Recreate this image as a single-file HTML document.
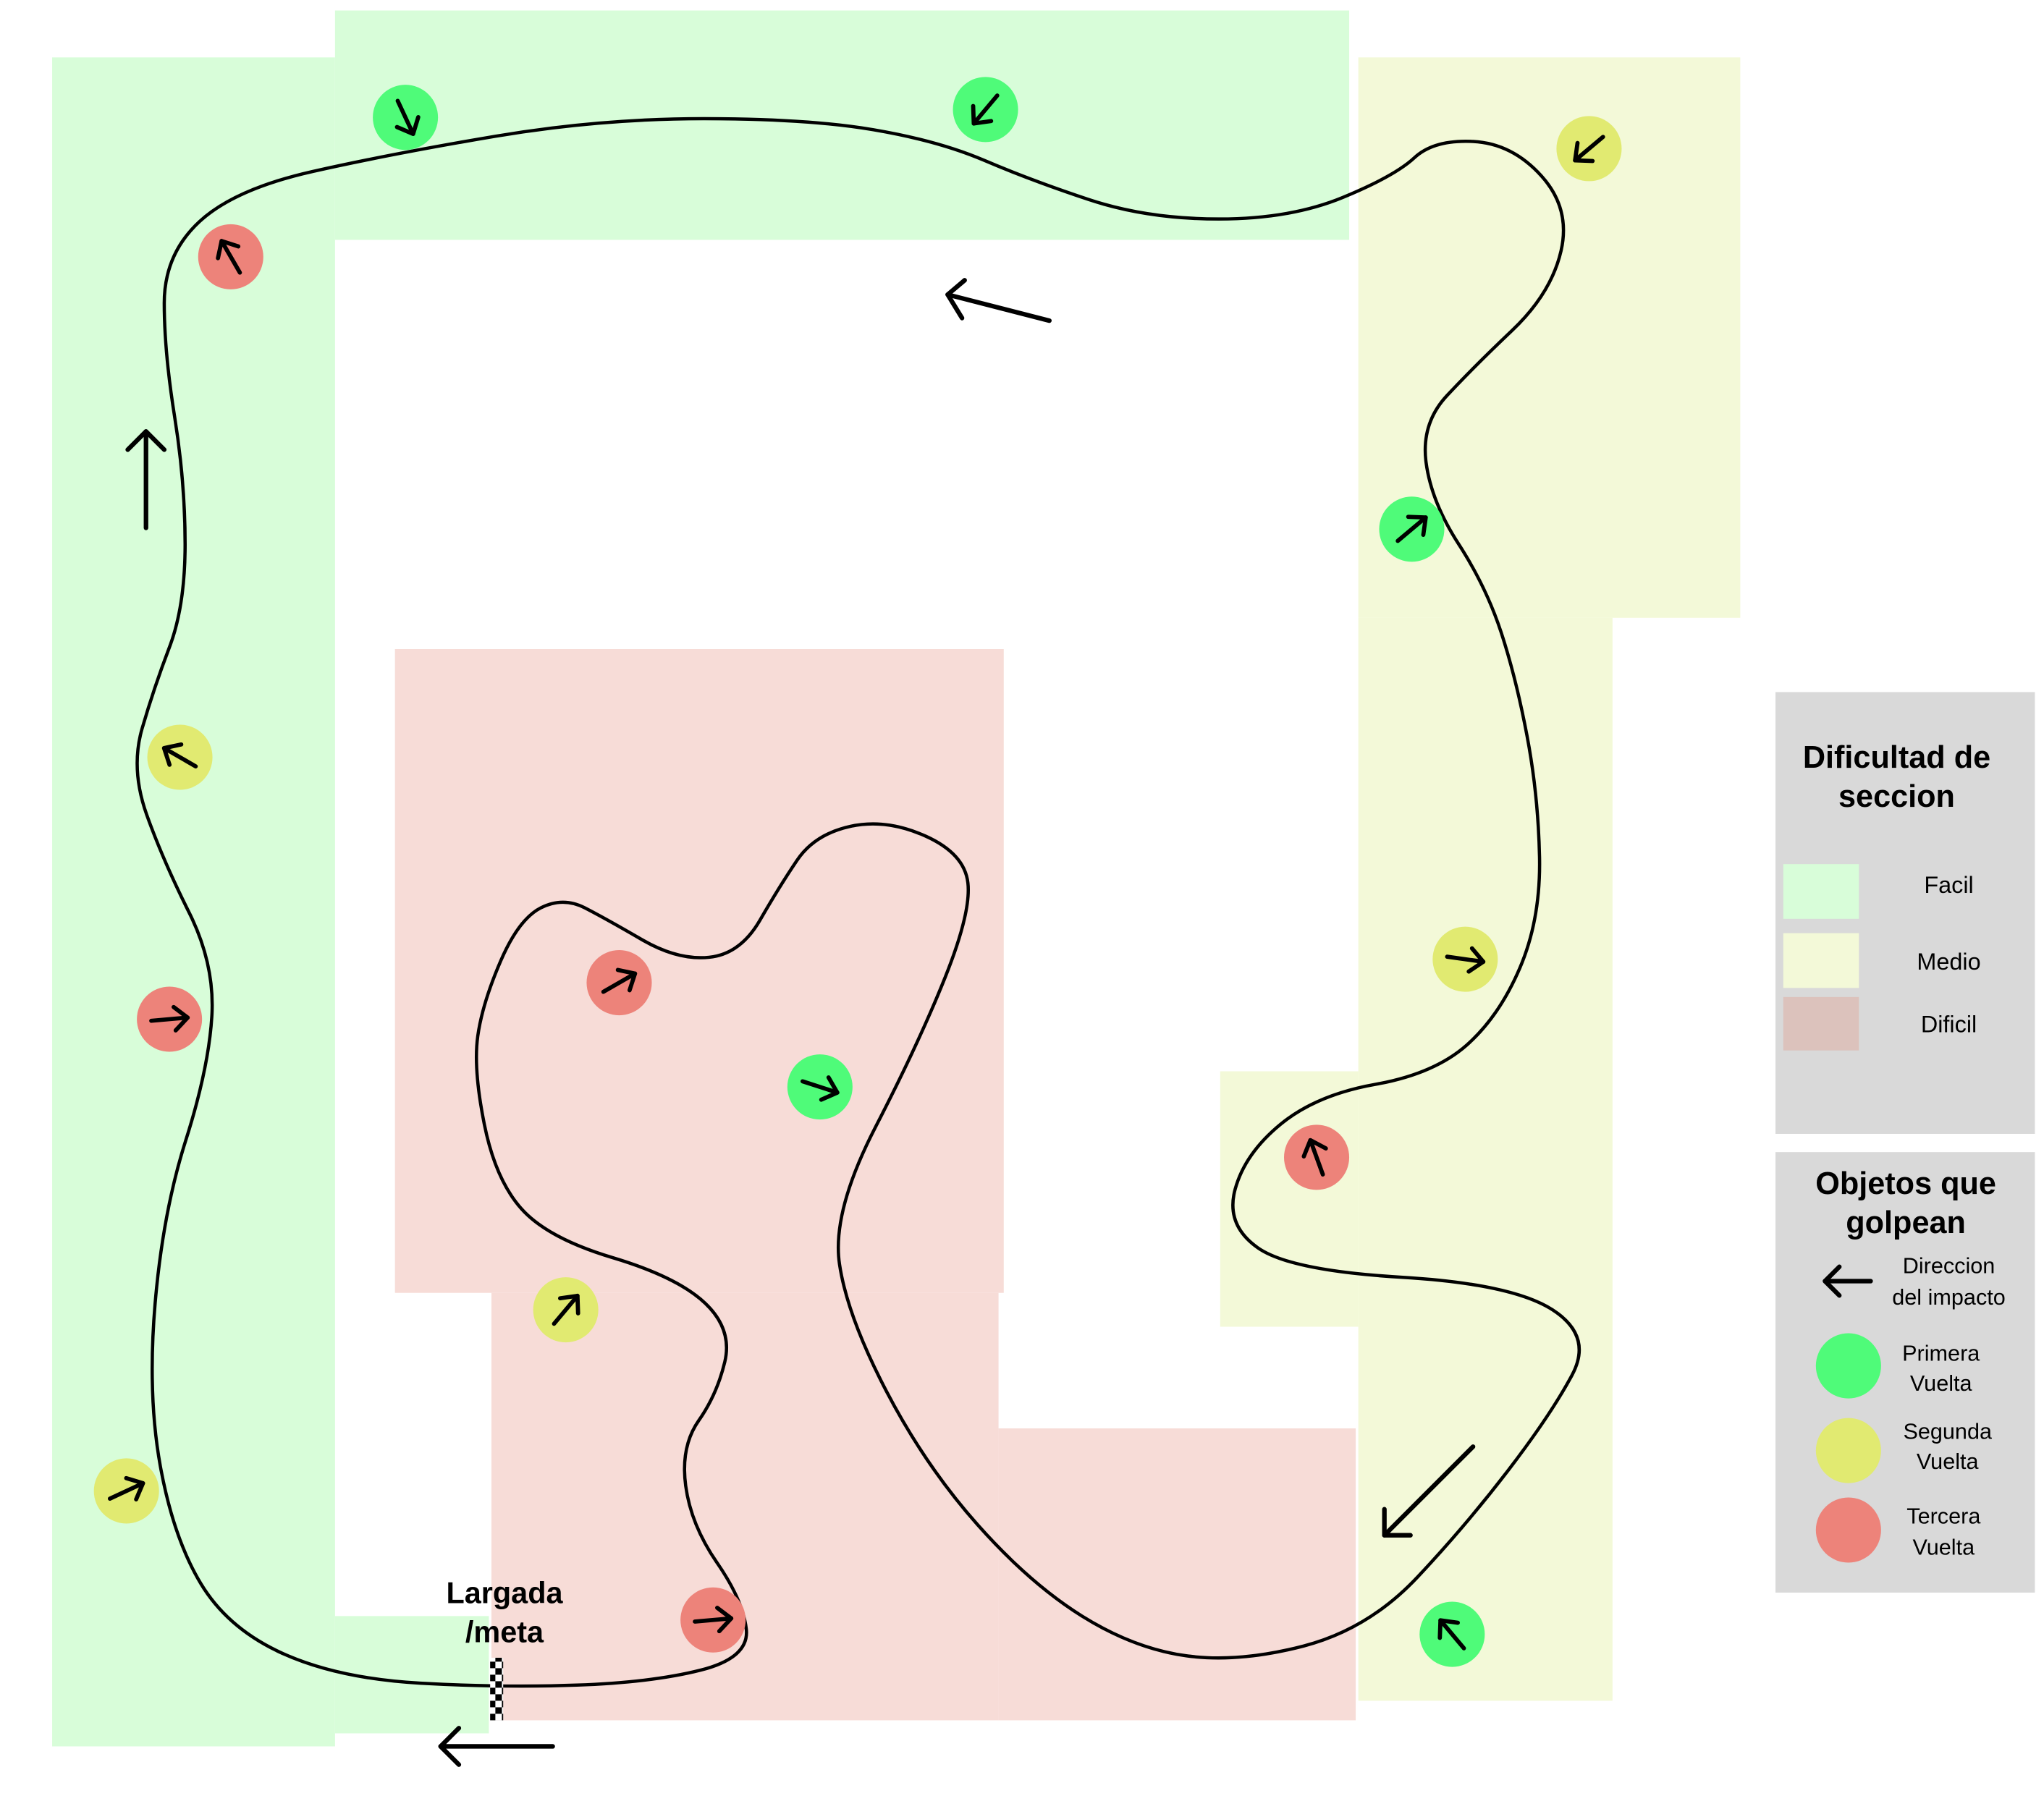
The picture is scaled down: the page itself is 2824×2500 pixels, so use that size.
<!DOCTYPE html>
<html><head><meta charset="utf-8"><style>html,body{margin:0;padding:0;background:#fff}svg{display:block}</style></head>
<body>
<svg width="2824" height="2500" viewBox="0 0 1568 1388" xmlns="http://www.w3.org/2000/svg" font-family="Liberation Sans, sans-serif">
<defs>
<g id="a"><line x1="-14" y1="0" x2="14" y2="0" stroke="#000" stroke-width="3.2" stroke-linecap="round"/><polyline points="4,-9 14,0 4,9" fill="none" stroke="#000" stroke-width="3.2" stroke-linecap="round" stroke-linejoin="round"/></g>
<pattern id="chk" width="10" height="10" patternUnits="userSpaceOnUse"><rect width="10" height="10" fill="#fff"/><rect width="5" height="5" fill="#000"/><rect x="5" y="5" width="5" height="5" fill="#000"/></pattern>
</defs>
<rect width="1568" height="1388" fill="#fff"/>
<g fill="#d8fdd9">
<rect x="40" y="44" width="217" height="1296"/>
<rect x="257" y="8" width="778" height="176"/>
<rect x="257" y="1240" width="118" height="90"/>
</g>
<g fill="#f3f9d8">
<rect x="1042" y="44" width="293" height="430"/>
<rect x="1042" y="474" width="195" height="831"/>
<rect x="936" y="822" width="106" height="196"/>
</g>
<g fill="#f7dcd7">
<rect x="303" y="498" width="467" height="494"/>
<rect x="377" y="992" width="389" height="328"/>
<rect x="766" y="1096" width="274" height="224"/>
</g>
<path fill="none" stroke="#000" stroke-width="2.5" d="M442.5,1293
Q385,1295 322.5,1291.5 Q260,1288 217.5,1269 Q175,1250 154,1215 Q133,1180 123,1125 Q113,1070 119,1000 Q125,930 142.5,875 Q160,820 162.5,780 Q165,740 145,700 Q125,660 112.5,625 Q100,590 109,559 Q118,528 130,496.5 Q142,465 142,417.5 Q142,370 134,320 Q126,270 126,232.5 Q126,195 153,170 Q180,145 240,131.5 Q300,118 380,104.5 Q460,91 540,91 Q620,91 670,99.5 Q720,108 755,123 Q790,138 835,153 Q880,168 935,168 Q990,168 1030,151.5 Q1070,135 1085,121 Q1100,107 1130,108.5 Q1160,110 1182.5,135 Q1205,160 1197.5,192.5 Q1190,225 1160,253.5 Q1130,282 1110,303.5 Q1090,325 1094,355 Q1098,385 1119,417.5 Q1140,450 1151.5,485 Q1163,520 1171.5,565 Q1180,610 1181,657.5 Q1182,705 1166,742.5 Q1150,780 1125,802 Q1100,824 1055,832 Q1010,840 982.5,862.5 Q955,885 947.5,912.5 Q940,940 965,957.5 Q990,975 1075,980 Q1160,985 1191,1005 Q1222,1025 1206,1055 Q1190,1085 1157.5,1127.5 Q1125,1170 1087.5,1210 Q1050,1250 1000,1263 Q950,1276 910,1270.5 Q870,1265 830,1240 Q790,1215 750,1170 Q710,1125 680,1067.5 Q650,1010 644,970 Q638,930 671.5,865 Q705,800 725,750 Q745,700 742.5,677.5 Q740,655 710,641.5 Q680,628 652.5,634 Q625,640 611.5,660 Q598,680 583,706 Q568,732 544,734.5 Q520,737 492.5,721 Q465,705 448.5,696.5 Q432,688 415,696.5 Q398,705 384,737.5 Q370,770 366.5,795 Q363,820 371.5,862.5 Q380,905 400,927.5 Q420,950 470,965 Q520,980 541,1000 Q562,1020 556,1045 Q550,1070 536,1090 Q522,1110 526,1140 Q530,1170 550,1199 Q570,1228 572.5,1250 Q575,1272 537.5,1281.5 Q500,1291 442.5,1293 Z"/>
<rect x="376" y="1272" width="10" height="48" fill="url(#chk)"/>
<text x="387" y="1230" font-size="23" font-weight="bold" text-anchor="middle">Largada</text>
<text x="387" y="1260" font-size="23" font-weight="bold" text-anchor="middle">/meta</text>
<g stroke="#000" stroke-width="3.5" fill="none" stroke-linecap="round" stroke-linejoin="round">
<line x1="805" y1="246" x2="727" y2="226"/><polyline points="740,215 727,226 738,244"/>
<line x1="112" y1="405" x2="112" y2="331"/><polyline points="98,345 112,331 126,345"/>
<line x1="1130" y1="1110" x2="1062" y2="1178"/><polyline points="1062,1158 1062,1178 1082,1178"/>
<line x1="424" y1="1340" x2="338" y2="1340"/><polyline points="352,1326 338,1340 352,1354"/>
</g>
<g>
<circle cx="311" cy="90" r="25" fill="#4ffb79"/><use href="#a" transform="translate(311,90) rotate(65)"/>
<circle cx="756" cy="84" r="25" fill="#4ffb79"/><use href="#a" transform="translate(756,84) rotate(130)"/>
<circle cx="1083" cy="406" r="25" fill="#4ffb79"/><use href="#a" transform="translate(1083,406) rotate(-40)"/>
<circle cx="629" cy="834" r="25" fill="#4ffb79"/><use href="#a" transform="translate(629,834) rotate(18)"/>
<circle cx="1114" cy="1254" r="25" fill="#4ffb79"/><use href="#a" transform="translate(1114,1254) rotate(-130)"/>
<circle cx="1219" cy="114" r="25" fill="#e1ea71"/><use href="#a" transform="translate(1219,114) rotate(140)"/>
<circle cx="138" cy="581" r="25" fill="#e1ea71"/><use href="#a" transform="translate(138,581) rotate(-150)"/>
<circle cx="1124" cy="736" r="25" fill="#e1ea71"/><use href="#a" transform="translate(1124,736) rotate(8)"/>
<circle cx="434" cy="1005" r="25" fill="#e1ea71"/><use href="#a" transform="translate(434,1005) rotate(-50)"/>
<circle cx="97" cy="1144" r="25" fill="#e1ea71"/><use href="#a" transform="translate(97,1144) rotate(-25)"/>
<circle cx="177" cy="197" r="25" fill="#ed837a"/><use href="#a" transform="translate(177,197) rotate(-120)"/>
<circle cx="130" cy="782" r="25" fill="#ed837a"/><use href="#a" transform="translate(130,782) rotate(-5)"/>
<circle cx="475" cy="754" r="25" fill="#ed837a"/><use href="#a" transform="translate(475,754) rotate(-30)"/>
<circle cx="1010" cy="888" r="25" fill="#ed837a"/><use href="#a" transform="translate(1010,888) rotate(-110)"/>
<circle cx="547" cy="1243" r="25" fill="#ed837a"/><use href="#a" transform="translate(547,1243) rotate(-5)"/>
</g>
<rect x="1362" y="531" width="199" height="339" fill="#d9d9d9"/>
<text x="1455" y="589" font-size="24" font-weight="bold" text-anchor="middle">Dificultad de</text>
<text x="1455" y="619" font-size="24" font-weight="bold" text-anchor="middle">seccion</text>
<rect x="1368" y="663" width="58" height="42" fill="#d8fdd9"/>
<rect x="1368" y="716" width="58" height="42" fill="#f3f9d8"/>
<rect x="1368" y="765" width="58" height="41" fill="#dcc2bc"/>
<text x="1495" y="685" font-size="18" text-anchor="middle">Facil</text>
<text x="1495" y="744" font-size="18" text-anchor="middle">Medio</text>
<text x="1495" y="792" font-size="18" text-anchor="middle">Dificil</text>
<rect x="1362" y="884" width="199" height="338" fill="#d9d9d9"/>
<text x="1462" y="916" font-size="24" font-weight="bold" text-anchor="middle">Objetos que</text>
<text x="1462" y="946" font-size="24" font-weight="bold" text-anchor="middle">golpean</text>
<g stroke="#000" stroke-width="3.5" fill="none" stroke-linecap="round" stroke-linejoin="round">
<line x1="1435" y1="983" x2="1400" y2="983"/><polyline points="1411,972 1400,983 1411,994"/>
</g>
<text x="1495" y="977" font-size="17" text-anchor="middle">Direccion</text>
<text x="1495" y="1001" font-size="17" text-anchor="middle">del impacto</text>
<circle cx="1418" cy="1048" r="25" fill="#4ffb79"/>
<circle cx="1418" cy="1113" r="25" fill="#e1ea71"/>
<circle cx="1418" cy="1174" r="25" fill="#ed837a"/>
<text x="1489" y="1044" font-size="17" text-anchor="middle">Primera</text>
<text x="1489" y="1067" font-size="17" text-anchor="middle">Vuelta</text>
<text x="1494" y="1104" font-size="17" text-anchor="middle">Segunda</text>
<text x="1494" y="1127" font-size="17" text-anchor="middle">Vuelta</text>
<text x="1491" y="1169" font-size="17" text-anchor="middle">Tercera</text>
<text x="1491" y="1193" font-size="17" text-anchor="middle">Vuelta</text>
</svg>
</body></html>
